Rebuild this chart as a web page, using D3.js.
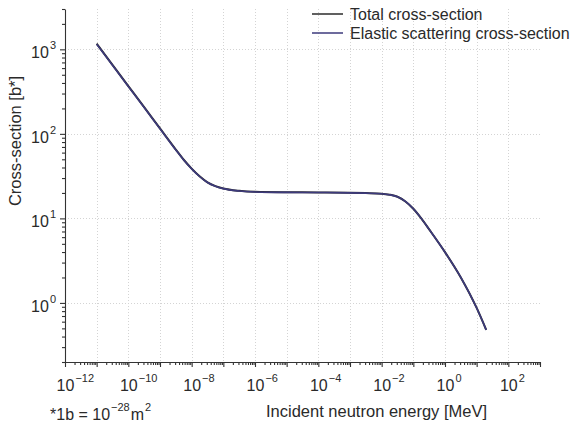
<!DOCTYPE html>
<html>
<head>
<meta charset="utf-8">
<script src="https://cdn.jsdelivr.net/npm/d3@7"></script>
<style>
  html, body { margin: 0; padding: 0; background: #fff; }
  svg { display: block; font-family: "Liberation Sans", Arial, Helvetica, sans-serif; }
</style>
</head>
<body>
<svg id="chart" width="580" height="428"></svg>
<script>
// Incident neutron energy (MeV) at which the cross-sections are sampled
const energyMeV = [1e-11, 3.16e-11, 1e-10, 3.16e-10, 1e-9, 3.16e-9, 5.62e-9, 1e-8, 1.78e-8,
  3.16e-8, 5.62e-8, 1e-7, 3.16e-7, 1e-6, 1e-5, 1e-4, 1e-3, 3.16e-3, 1e-2, 1.78e-2, 3.16e-2,
  5.62e-2, 1e-1, 1.78e-1, 3.16e-1, 1, 3.16, 10, 20];
// Cross-sections in barns
const totalXS = [1165, 655, 368, 207, 116, 65.2, 49.4, 38.8, 31.5, 26.7, 24.1, 22.6, 21.2,
  20.6, 20.35, 20.28, 20.07, 19.92, 19.62, 19.07, 18.02, 15.87, 13.02, 10.01, 7.42, 3.99,
  2.0, 0.872, 0.481];
const elasticXS = [1150, 647, 364, 205, 115, 64.6, 49, 38.5, 31.3, 26.6, 24.0, 22.5, 21.1,
  20.55, 20.3, 20.25, 20.05, 19.9, 19.6, 19.05, 18.0, 15.85, 13.0, 10.0, 7.41, 3.98,
  2.0, 0.87, 0.48];

const seriesNames = ["Total cross-section", "Elastic scattering cross-section"];
const seriesColors = ["#2b2b2b", "#3d3a7c"];
const xLabelExponents = [-12, -10, -8, -6, -4, -2, 0, 2];
const yLabelExponents = [0, 1, 2, 3];

const FONT = 16;
const SUP = 11;
const textColor = "#2a2a2a";

const svg = d3.select("#chart");
const x = d3.scaleLog().domain([1e-12, 1e3]).range([65, 540]);
const y = d3.scaleLog().domain([0.2, 3000]).range([362, 9]);
const [plotLeft, plotRight] = x.range();
const [plotBottom, plotTop] = y.range();

// Dotted decade grid
const gridX = d3.range(-11, 3).map(k => Math.pow(10, k));
const gridY = d3.range(0, 4).map(k => Math.pow(10, k));
const grid = svg.append("g").attr("stroke", "#d4d4d4").attr("stroke-width", 1)
  .attr("stroke-dasharray", "1,2");
grid.selectAll("line.gx").data(gridX).join("line").attr("class", "gx")
  .attr("x1", d => Math.round(x(d)) + 0.5).attr("x2", d => Math.round(x(d)) + 0.5)
  .attr("y1", plotTop).attr("y2", plotBottom);
grid.selectAll("line.gy").data(gridY).join("line").attr("class", "gy")
  .attr("y1", d => Math.round(y(d)) + 0.5).attr("y2", d => Math.round(y(d)) + 0.5)
  .attr("x1", plotLeft).attr("x2", plotRight);

// Tick values
const minorX = [];
for (let k = -12; k < 3; k++) for (let m = 2; m < 10; m++) minorX.push(m * Math.pow(10, k));
const majorX = d3.range(-12, 4).map(k => Math.pow(10, k));
const minorY = [0.2, 0.3, 0.4, 0.5, 0.6, 0.7, 0.8, 0.9];
for (let k = 0; k < 3; k++) for (let m = 2; m < 10; m++) minorY.push(m * Math.pow(10, k));
minorY.push(2000, 3000);
const majorY = d3.range(0, 4).map(k => Math.pow(10, k));

function styleAxis(g) {
  g.selectAll("path, line").attr("stroke", "#333").attr("stroke-width", 1.1);
}

// x axis
svg.append("g").attr("transform", `translate(0,${plotBottom})`)
  .call(d3.axisBottom(x).tickValues(minorX).tickSize(3).tickFormat(""))
  .call(g => g.select(".domain").remove()).call(styleAxis);
const gx = svg.append("g").attr("transform", `translate(0,${plotBottom})`)
  .call(d3.axisBottom(x).tickValues(majorX).tickSize(5).tickSizeOuter(0).tickFormat(""))
  .call(styleAxis);

// y axis
svg.append("g").attr("transform", `translate(${plotLeft},0)`)
  .call(d3.axisLeft(y).tickValues(minorY).tickSize(3).tickFormat(""))
  .call(g => g.select(".domain").remove()).call(styleAxis);
const gy = svg.append("g").attr("transform", `translate(${plotLeft},0)`)
  .call(d3.axisLeft(y).tickValues(majorY).tickSize(5).tickSizeOuter(0).tickFormat(""))
  .call(styleAxis);

function expText(e) { return e < 0 ? "\u2212" + Math.abs(e) : String(e); }

// Power-of-ten labels on the x axis: the "10" sits centred on its tick
gx.selectAll(".tick")
  .filter(d => xLabelExponents.includes(Math.round(Math.log10(d))))
  .each(function (d) {
    const e = Math.round(Math.log10(d));
    const t = d3.select(this).append("text")
      .attr("fill", textColor).attr("font-size", FONT)
      .attr("text-anchor", "start").attr("y", 29);
    const base = t.append("tspan").text("10");
    t.append("tspan").attr("font-size", SUP).attr("dy", -9).attr("dx", 1).text(expText(e));
    const w = base.node().getComputedTextLength();
    t.attr("x", -w / 2);
  });

// Power-of-ten labels on the y axis
gy.selectAll(".tick")
  .filter(d => yLabelExponents.includes(Math.round(Math.log10(d))))
  .each(function (d) {
    const e = Math.round(Math.log10(d));
    const t = d3.select(this).append("text")
      .attr("fill", textColor).attr("font-size", FONT)
      .attr("text-anchor", "end").attr("x", -9).attr("y", 8.5);
    t.append("tspan").text("10");
    t.append("tspan").attr("font-size", SUP).attr("dy", -9).attr("dx", 1).text(expText(e));
  });

// Curves
const totalData = energyMeV.map((e, i) => ({ e, v: totalXS[i] }));
const elasticData = energyMeV.map((e, i) => ({ e, v: elasticXS[i] }));
const line = d3.line().x(d => x(d.e)).y(d => y(d.v)).curve(d3.curveMonotoneX);

svg.append("path").datum(totalData).attr("d", line)
  .attr("fill", "none").attr("stroke", seriesColors[0]).attr("stroke-width", 2);
svg.append("path").datum(elasticData).attr("d", line)
  .attr("fill", "none").attr("stroke", seriesColors[1]).attr("stroke-width", 1.6);

// Legend
const legend = svg.append("g");
seriesNames.forEach((name, i) => {
  const ly = 14 + i * 19;
  legend.append("line").attr("x1", 312).attr("x2", 343).attr("y1", ly).attr("y2", ly)
    .attr("stroke", seriesColors[i]).attr("stroke-width", 1.5);
  legend.append("text").attr("x", 350).attr("y", ly + 5.5)
    .attr("fill", textColor).attr("font-size", FONT).text(name);
});

// Axis titles
svg.append("text").attr("transform", "translate(21,141) rotate(-90)")
  .attr("text-anchor", "middle").attr("fill", textColor).attr("font-size", 16.5)
  .text("Cross-section [b*]");
svg.append("text").attr("x", 376.5).attr("y", 417)
  .attr("text-anchor", "middle").attr("fill", textColor).attr("font-size", 16.5)
  .text("Incident neutron energy [MeV]");

// Unit footnote
const note = svg.append("text").attr("x", 50).attr("y", 420)
  .attr("fill", textColor).attr("font-size", FONT);
note.append("tspan").text("*1b = 10");
note.append("tspan").attr("font-size", SUP).attr("dy", -9).attr("dx", 1).text("\u221228");
note.append("tspan").attr("dy", 9).attr("dx", 1).text("m");
note.append("tspan").attr("font-size", SUP).attr("dy", -9).attr("dx", 1).text("2");
</script>
</body>
</html>
